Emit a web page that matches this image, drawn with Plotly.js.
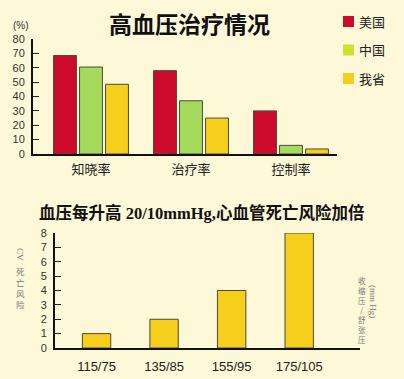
<!DOCTYPE html>
<html><head><meta charset="utf-8">
<script src="https://cdn.plot.ly/plotly-3.0.1.min.js"></script>
<style>html,body{margin:0;padding:0;background:#fdf8d8;}#chart{width:404px;height:379px;}</style>
</head><body><div id="chart"></div>
<script>
// ---- data ----
const topCategories = ['知晓率', '治疗率', '控制率'];
const seriesNames = ['美国', '中国', '我省'];
const usaValues = [68.5, 58, 30];
const chinaValues = [60.5, 37, 6];
const provinceValues = [48.5, 25, 3.5];
const topYTicks = [0, 10, 20, 30, 40, 50, 60, 70, 80];

const bpCategories = ['115/75', '135/85', '155/95', '175/105'];
const riskValues = [1, 2, 4, 8];
const bottomYTicks = [0, 1, 2, 3, 4, 5, 6, 7, 8];

// ---- styles ----
const W = 404, H = 379;
const px = x => x / W, py = y => 1 - y / H;
const cjk = '"Noto Sans CJK SC", "Liberation Sans", sans-serif';
const serifCjk = '"Liberation Serif", "Noto Sans CJK SC", serif';
const colors = ['#cc0a2c', '#a6da5c', '#f5cf1c'];
const legendColors = ['#cc0a2c', '#cde22e', '#f5cd1e'];
const barLine = {color: '#4a4a3a', width: 1};

const topSeries = [usaValues, chinaValues, provinceValues];
const traces = topSeries.map((vals, i) => ({
  type: 'bar', x: topCategories, y: vals, name: seriesNames[i],
  xaxis: 'x', yaxis: 'y', showlegend: false,
  marker: {color: colors[i], line: barLine}, hoverinfo: 'none'
}));
traces.push({
  type: 'bar', x: bpCategories, y: riskValues, xaxis: 'x2', yaxis: 'y2',
  showlegend: false, width: 0.42,
  marker: {color: colors[2], line: barLine}, hoverinfo: 'none'
});

const axisCommon = {
  showgrid: false, zeroline: false, showline: true, linecolor: '#111', linewidth: 2,
  ticks: 'inside', ticklen: 6, tickcolor: '#222', tickwidth: 1, fixedrange: true
};

function ann(text, x, y, font, extra) {
  return Object.assign({text, x: px(x), y: py(y), xref: 'paper', yref: 'paper',
    xanchor: 'center', yanchor: 'middle', showarrow: false, font}, extra || {});
}

// custom legend (squares + labels)
const legendShapes = seriesNames.map((n, i) => ({
  type: 'rect', xref: 'paper', yref: 'paper',
  x0: px(343), x1: px(354), y0: py(16 + i * 28.5), y1: py(27 + i * 28.5),
  fillcolor: legendColors[i], line: {width: 0}
}));
const legendAnns = seriesNames.map((n, i) =>
  ann(n, 357, 21.5 + i * 28.5, {family: cjk, size: 13, color: '#222'}, {xanchor: 'left'}));

const layout = {
  width: W, height: H, margin: {l: 0, r: 0, t: 0, b: 0},
  paper_bgcolor: '#fdf8d8', plot_bgcolor: 'rgba(0,0,0,0)',
  barmode: 'group', bargap: 0.22, bargroupgap: 0.12,
  showlegend: false,
  xaxis: Object.assign({}, axisCommon, {
    domain: [px(33), px(337)], anchor: 'y', type: 'category',
    range: [-0.58, 2.46], ticks: '', ticklabelstandoff: 2,
    tickfont: {family: cjk, size: 13, color: '#222'}
  }),
  yaxis: Object.assign({}, axisCommon, {
    domain: [py(154), py(39)], anchor: 'x', range: [0, 80], ticklabelstandoff: 4,
    tickvals: topYTicks, tickfont: {family: '"Liberation Sans", Arial', size: 11, color: '#333'}
  }),
  xaxis2: Object.assign({}, axisCommon, {
    domain: [px(55), px(360)], anchor: 'y2', type: 'category',
    range: [-0.615, 3.9], ticks: '', ticklabelstandoff: 5,
    tickfont: {family: '"Liberation Sans", Arial', size: 13, color: '#222'}
  }),
  yaxis2: Object.assign({}, axisCommon, {
    domain: [py(348), py(233)], anchor: 'x2', range: [0, 8], ticklabelstandoff: 4,
    tickvals: bottomYTicks, tickfont: {family: '"Liberation Sans", Arial', size: 11, color: '#333'}
  }),
  shapes: legendShapes,
  annotations: [
    ann('<b>高血压治疗情况</b>', 189, 26, {family: serifCjk, size: 23, color: '#111'}),
    ann('(%)', 21, 25, {family: '"Liberation Sans", Arial', size: 10, color: '#333'}),
    ann('<b>血压每升高 20/10mmHg,心血管死亡风险加倍</b>', 201, 213, {family: serifCjk, size: 16.5, color: '#111'}),
    ann('CV', 20, 254, {family: serifCjk, size: 9, color: '#777'}, {textangle: 90}),
    ann('死<br>亡<br>风<br>险', 20, 287, {family: cjk, size: 8.5, color: '#777'}),
    ann('收<br>缩<br>压<br>/<br>舒<br>张<br>压', 362, 310, {family: cjk, size: 7.5, color: '#777'}),
    ann('(mm Hg)', 373, 301, {family: serifCjk, size: 9, color: '#777'}, {textangle: 90})
  ].concat(legendAnns)
};

Plotly.newPlot('chart', traces, layout, {staticPlot: true});
</script></body></html>
